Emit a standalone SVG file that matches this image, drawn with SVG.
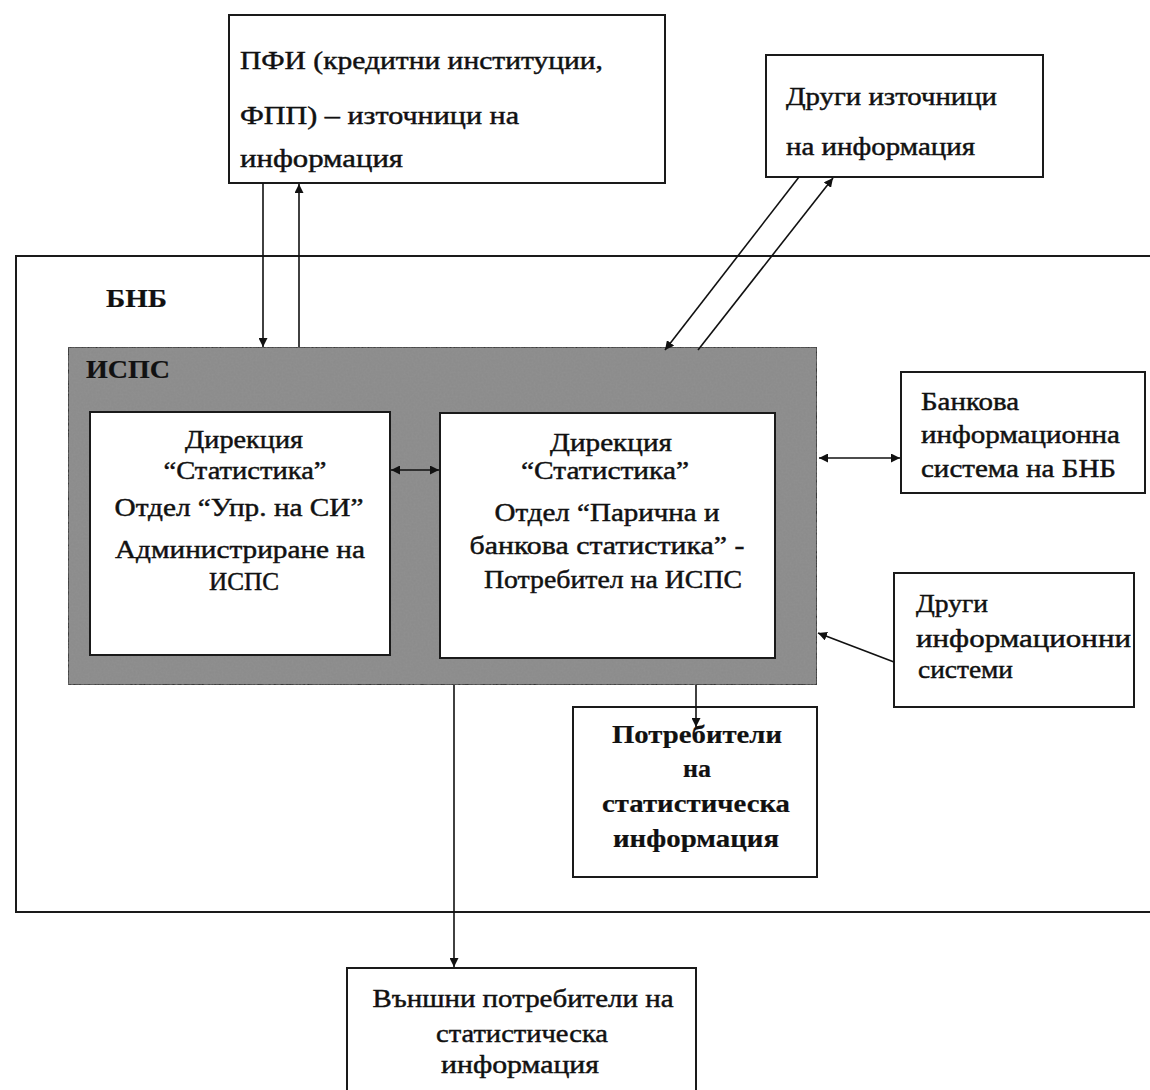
<svg xmlns="http://www.w3.org/2000/svg" width="1150" height="1090" viewBox="0 0 1150 1090">
<style>
.box{fill:#fff;stroke:#1a1a1a;stroke-width:2}
.t{font-family:"Liberation Serif","DejaVu Serif",serif;font-size:25px;fill:#111;stroke:#111;stroke-width:0.45}
.b{font-weight:bold;stroke-width:0.2}
.c{text-anchor:middle}
.ln{stroke:#111;stroke-width:1.6;fill:none}
</style>
<defs>
<marker id="ah" viewBox="0 0 10 10" refX="10" refY="5" markerWidth="9" markerHeight="9" markerUnits="userSpaceOnUse" orient="auto-start-reverse">
<path d="M0,0 L10,5 L0,10 z" fill="#111"/>
</marker>
<filter id="grain" x="0" y="0" width="100%" height="100%">
<feTurbulence type="fractalNoise" baseFrequency="0.5" numOctaves="2" seed="3" result="n"/>
<feColorMatrix in="n" type="matrix" values="0 0 0 0 0.3  0 0 0 0 0.3  0 0 0 0 0.3  0 0 0 0.7 -0.15" result="g"/>
<feComposite in="g" in2="SourceGraphic" operator="in" result="gi"/>
<feMerge><feMergeNode in="SourceGraphic"/><feMergeNode in="gi"/></feMerge>
</filter>
</defs>
<rect width="1150" height="1090" fill="#fff"/>

<g id="bnb">
<rect x="16" y="256" width="1150" height="656" fill="none" stroke="#1a1a1a" stroke-width="2"/>
<text class="t b" x="106" y="307" font-size="23" textLength="61" lengthAdjust="spacingAndGlyphs">БНБ</text>
</g>

<g id="ispc">
<rect x="68" y="347" width="749" height="338" fill="#8c8c8c" stroke="#333" stroke-width="2" filter="url(#grain)"/>
<text class="t b" x="86" y="378" font-size="22" fill="#111" stroke="#fff" stroke-width="0.8" textLength="84" lengthAdjust="spacingAndGlyphs">ИСПС</text>
</g>

<g id="pfi">
<rect class="box" x="229" y="15" width="436" height="168"/>
<text class="t" x="240" y="69" textLength="363" lengthAdjust="spacingAndGlyphs">ПФИ (кредитни институции,</text>
<text class="t" x="240" y="124" textLength="279" lengthAdjust="spacingAndGlyphs">ФПП) – източници на</text>
<text class="t" x="240" y="167" textLength="163" lengthAdjust="spacingAndGlyphs">информация</text>
</g>

<g id="drugi-iztochnici">
<rect class="box" x="766" y="55" width="277" height="122"/>
<text class="t" x="786" y="105" textLength="211" lengthAdjust="spacingAndGlyphs">Други източници</text>
<text class="t" x="786" y="155" textLength="189" lengthAdjust="spacingAndGlyphs">на информация</text>
</g>

<g id="dir-upr">
<rect class="box" x="90" y="412" width="300" height="243"/>
<text class="t c" x="244" y="448" textLength="118" lengthAdjust="spacingAndGlyphs">Дирекция</text>
<text class="t c" x="245" y="479" textLength="163" lengthAdjust="spacingAndGlyphs">“Статистика”</text>
<text class="t c" x="239" y="516" textLength="249" lengthAdjust="spacingAndGlyphs">Отдел “Упр. на СИ”</text>
<text class="t c" x="240" y="558" textLength="250" lengthAdjust="spacingAndGlyphs">Администриране на</text>
<text class="t c" x="244" y="590" textLength="70" lengthAdjust="spacingAndGlyphs">ИСПС</text>
</g>

<g id="dir-parichna">
<rect class="box" x="440" y="413" width="335" height="245"/>
<text class="t c" x="611" y="451" textLength="122" lengthAdjust="spacingAndGlyphs">Дирекция</text>
<text class="t c" x="605" y="479" textLength="168" lengthAdjust="spacingAndGlyphs">“Статистика”</text>
<text class="t c" x="607" y="521" textLength="225" lengthAdjust="spacingAndGlyphs">Отдел “Парична и</text>
<text class="t c" x="607" y="554" textLength="275" lengthAdjust="spacingAndGlyphs">банкова статистика” -</text>
<text class="t c" x="613" y="588" textLength="258" lengthAdjust="spacingAndGlyphs">Потребител на ИСПС</text>
</g>

<g id="bankova">
<rect class="box" x="901" y="372" width="244" height="121"/>
<text class="t" x="921" y="410" textLength="98" lengthAdjust="spacingAndGlyphs">Банкова</text>
<text class="t" x="921" y="443" textLength="199" lengthAdjust="spacingAndGlyphs">информационна</text>
<text class="t" x="921" y="477" textLength="195" lengthAdjust="spacingAndGlyphs">система на БНБ</text>
</g>

<g id="drugi-sistemi">
<rect class="box" x="894" y="573" width="240" height="134"/>
<text class="t" x="916" y="612" textLength="72" lengthAdjust="spacingAndGlyphs">Други</text>
<text class="t" x="916" y="647" textLength="215" lengthAdjust="spacingAndGlyphs">информационни</text>
<text class="t" x="918" y="678" textLength="95" lengthAdjust="spacingAndGlyphs">системи</text>
</g>

<g id="potrebiteli">
<rect class="box" x="573" y="707" width="244" height="170"/>
<text class="t b c" x="697" y="743" textLength="170" lengthAdjust="spacingAndGlyphs">Потребители</text>
<text class="t b c" x="697" y="777" textLength="28" lengthAdjust="spacingAndGlyphs">на</text>
<text class="t b c" x="696" y="812" textLength="188" lengthAdjust="spacingAndGlyphs">статистическа</text>
<text class="t b c" x="696" y="847" textLength="166" lengthAdjust="spacingAndGlyphs">информация</text>
</g>

<g id="vanshni">
<rect class="box" x="347" y="968" width="349" height="125"/>
<text class="t c" x="523" y="1007" textLength="301" lengthAdjust="spacingAndGlyphs">Външни потребители на</text>
<text class="t c" x="522" y="1042" textLength="172" lengthAdjust="spacingAndGlyphs">статистическа</text>
<text class="t c" x="520" y="1073" textLength="158" lengthAdjust="spacingAndGlyphs">информация</text>
</g>

<g id="connectors">
<line class="ln" x1="263" y1="183" x2="263" y2="347" marker-end="url(#ah)"/>
<line class="ln" x1="299" y1="347" x2="299" y2="184" marker-end="url(#ah)"/>
<line class="ln" x1="799" y1="177" x2="665" y2="350" marker-end="url(#ah)"/>
<line class="ln" x1="698" y1="350" x2="833" y2="178" marker-end="url(#ah)"/>
<line class="ln" x1="391" y1="470" x2="439" y2="470" marker-start="url(#ah)" marker-end="url(#ah)"/>
<line class="ln" x1="819" y1="458" x2="900" y2="458" marker-start="url(#ah)" marker-end="url(#ah)"/>
<line class="ln" x1="894" y1="662" x2="818" y2="633" marker-end="url(#ah)"/>
<line class="ln" x1="454" y1="685" x2="454" y2="967" marker-end="url(#ah)"/>
<line class="ln" x1="696" y1="685" x2="696" y2="727" marker-end="url(#ah)"/>
</g>
</svg>
